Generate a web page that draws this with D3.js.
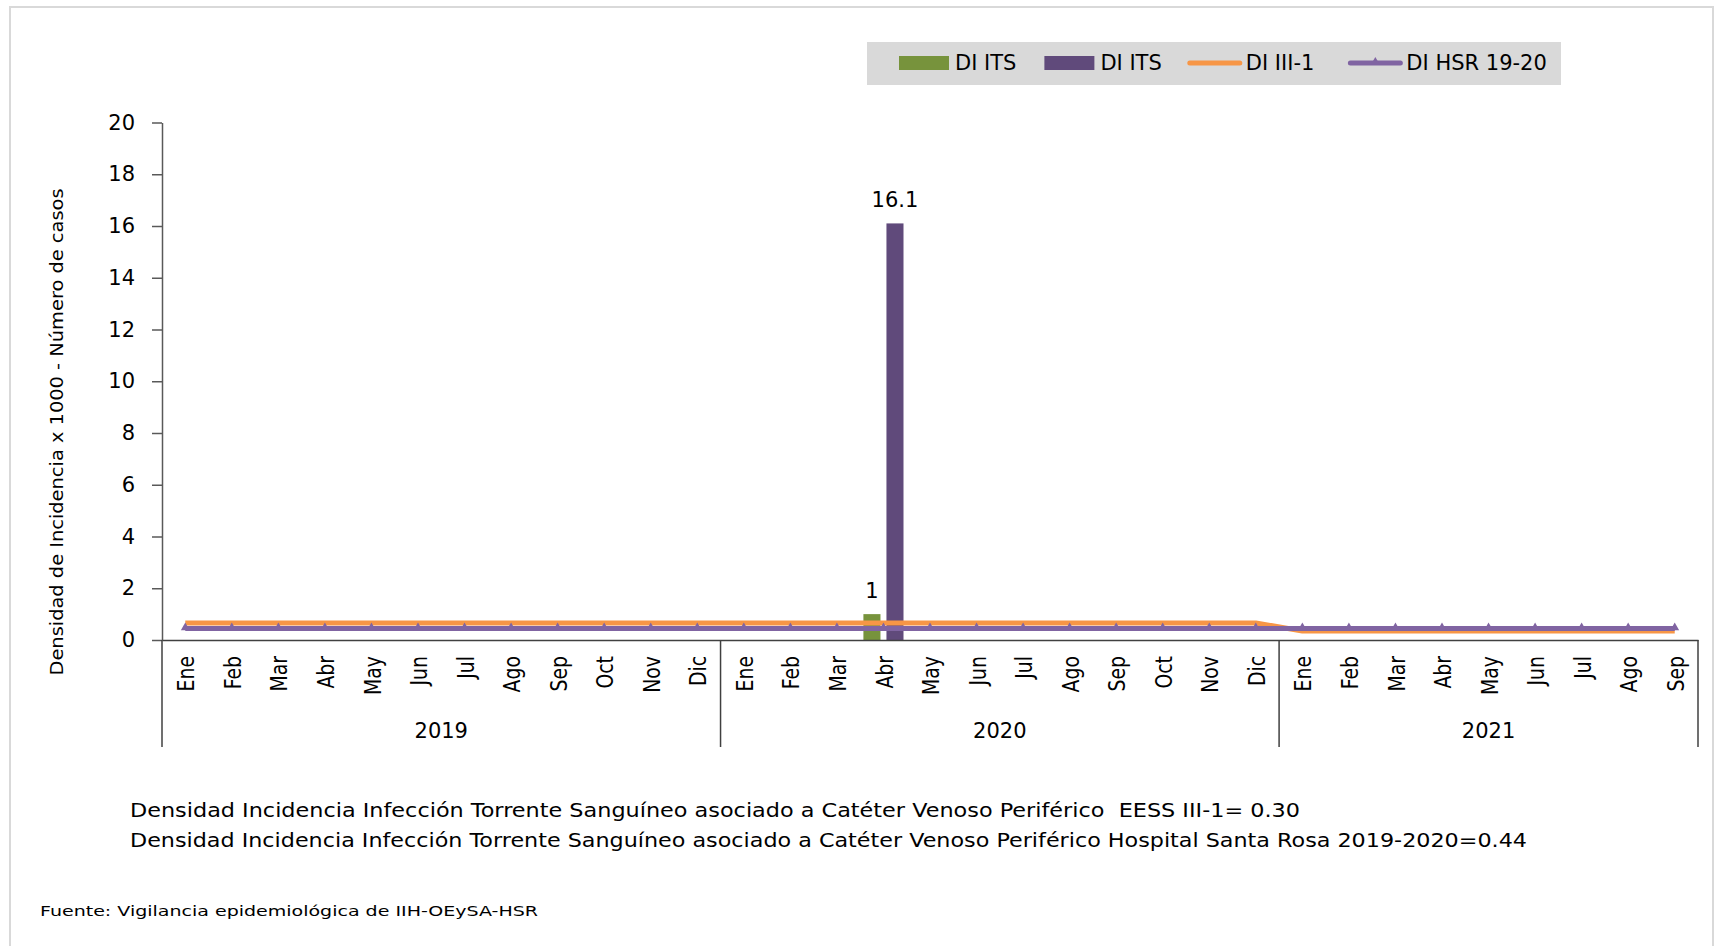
<!DOCTYPE html>
<html>
<head>
<meta charset="utf-8">
<script src="https://cdn.jsdelivr.net/npm/d3@7"></script>
<style>
  body { margin: 0; background: #fff; }
  text { font-family: "DejaVu Sans", sans-serif; fill: #000; }
</style>
</head>
<body>
<div id="mount"></div>
<script>
var months = ['Ene','Feb','Mar','Abr','May','Jun','Jul','Ago','Sep','Oct','Nov','Dic',
              'Ene','Feb','Mar','Abr','May','Jun','Jul','Ago','Sep','Oct','Nov','Dic',
              'Ene','Feb','Mar','Abr','May','Jun','Jul','Ago','Sep'];
var years = ['2019', '2020', '2021'];
var monthsPerYear = [12, 12, 9];

// barras: numero de casos y densidad
var casosITS = [0,0,0,0,0,0,0,0,0,0,0,0, 0,0,0,1,0,0,0,0,0,0,0,0, 0,0,0,0,0,0,0,0,0];
var densidadITS = [0,0,0,0,0,0,0,0,0,0,0,0, 0,0,0,16.1,0,0,0,0,0,0,0,0, 0,0,0,0,0,0,0,0,0];
// lineas de referencia
var diIII1 = [0.66,0.66,0.66,0.66,0.66,0.66,0.66,0.66,0.66,0.66,0.66,0.66,
              0.66,0.66,0.66,0.66,0.66,0.66,0.66,0.66,0.66,0.66,0.66,0.66,
              0.35,0.35,0.35,0.35,0.35,0.35,0.35,0.35,0.35];
var diHSR = [0.44,0.44,0.44,0.44,0.44,0.44,0.44,0.44,0.44,0.44,0.44,0.44,
             0.44,0.44,0.44,0.44,0.44,0.44,0.44,0.44,0.44,0.44,0.44,0.44,
             0.44,0.44,0.44,0.44,0.44,0.44,0.44,0.44,0.44];
var yTicks = [0, 2, 4, 6, 8, 10, 12, 14, 16, 18, 20];

var seriesNames = ['DI ITS', 'DI ITS', 'DI III-1', 'DI HSR 19-20'];
var seriesColors = ['#77933c', '#604a7b', '#f79646', '#8064a2'];
var yTitle = 'Densidad de Incidencia x 1000 - Número de casos';
var notes = [
  'Densidad Incidencia Infección Torrente Sanguíneo asociado a Catéter Venoso Periférico  EESS III-1= 0.30',
  'Densidad Incidencia Infección Torrente Sanguíneo asociado a Catéter Venoso Periférico Hospital Santa Rosa 2019-2020=0.44'
];
var fuente = 'Fuente: Vigilancia epidemiológica de IIH-OEySA-HSR';

var W = 1715, H = 946;
var svg = d3.select('#mount').append('svg')
  .attr('width', W)
  .attr('height', H);

svg.append('rect')
  .attr('x', 10).attr('y', 7)
  .attr('width', 1703).attr('height', 960)
  .attr('fill', '#fff')
  .attr('stroke', '#d9d9d9')
  .attr('stroke-width', 2);

var idx = d3.range(months.length);
var x = d3.scaleBand().domain(idx).range([162, 1698]);
var y = d3.scaleLinear().domain([0, 20]).range([640, 122.5]);
var cx = function (i) { return x(i) + x.bandwidth() / 2; };

// eje y
var yAxis = svg.append('g')
  .attr('transform', 'translate(162,0)')
  .call(d3.axisLeft(y).tickValues(yTicks).tickSize(10).tickSizeOuter(0).tickPadding(17));
yAxis.select('.domain').attr('stroke', '#595959').attr('stroke-width', 1.5);
yAxis.selectAll('.tick line').attr('stroke', '#595959').attr('stroke-width', 1.5);
yAxis.selectAll('.tick text')
  .style('font-size', '21px')
  .style('font-family', '"DejaVu Sans", sans-serif')
  .attr('fill', '#000');

svg.append('text')
  .attr('transform', 'translate(57,432) rotate(-90)')
  .attr('text-anchor', 'middle')
  .attr('dy', '0.35em')
  .attr('textLength', 487)
  .attr('lengthAdjust', 'spacingAndGlyphs')
  .style('font-size', '18px')
  .text(yTitle);

// barras
var x1 = d3.scaleBand().domain([0, 1]).range([0, x.bandwidth()])
  .paddingInner(0.26).paddingOuter(0.14);
var barSeries = [casosITS, densidadITS];

barSeries.forEach(function (vals, s) {
  var g = svg.append('g');
  g.selectAll('rect')
    .data(idx)
    .enter()
    .append('rect')
    .attr('x', function (i) { return x(i) + x1(s); })
    .attr('width', x1.bandwidth())
    .attr('y', function (i) { return y(vals[i]); })
    .attr('height', function (i) { return y(0) - y(vals[i]); })
    .attr('fill', seriesColors[s]);
  g.selectAll('text')
    .data(idx.filter(function (i) { return vals[i] > 0; }))
    .enter()
    .append('text')
    .attr('x', function (i) { return x(i) + x1(s) + x1.bandwidth() / 2; })
    .attr('y', function (i) { return y(vals[i]) - 16; })
    .attr('text-anchor', 'middle')
    .style('font-size', '21px')
    .text(function (i) { return String(vals[i]); });
});

// eje x
var xAxis = svg.append('g')
  .attr('transform', 'translate(0,640)')
  .call(d3.axisBottom(x).tickSize(0).tickSizeOuter(0)
    .tickFormat(function (i) { return months[i]; }));
xAxis.select('.domain').attr('stroke', '#404040').attr('stroke-width', 1.5);
xAxis.selectAll('.tick text')
  .attr('x', 0).attr('y', 0)
  .attr('dy', '0.35em')
  .attr('text-anchor', 'end')
  .attr('transform', 'translate(1,16) rotate(-90) scale(0.82,1)')
  .style('font-size', '23px')
  .style('font-family', '"DejaVu Sans", sans-serif')
  .attr('fill', '#000');

var bounds = [0].concat(Array.from(d3.cumsum(monthsPerYear)));
var bx = function (k) { return x.range()[0] + k * x.step(); };
svg.append('g').selectAll('line')
  .data(bounds)
  .enter()
  .append('line')
  .attr('x1', function (k) { return bx(k); })
  .attr('x2', function (k) { return bx(k); })
  .attr('y1', 640).attr('y2', 747)
  .attr('stroke', '#404040')
  .attr('stroke-width', 1.5);

svg.append('g').selectAll('text')
  .data(years)
  .enter()
  .append('text')
  .attr('x', function (d, j) { return (bx(bounds[j]) + bx(bounds[j + 1])) / 2; })
  .attr('y', 731)
  .attr('dy', '0.35em')
  .attr('text-anchor', 'middle')
  .style('font-size', '21px')
  .text(function (d) { return d; });

// lineas
var line = function (vals) {
  return d3.line().x(cx).y(function (i) { return y(vals[i]); })(idx);
};
svg.append('path')
  .attr('d', line(diIII1))
  .attr('fill', 'none')
  .attr('stroke', seriesColors[2])
  .attr('stroke-width', 5)
  .attr('stroke-linejoin', 'round');
svg.append('path')
  .attr('d', line(diHSR))
  .attr('fill', 'none')
  .attr('stroke', seriesColors[3])
  .attr('stroke-width', 5)
  .attr('stroke-linejoin', 'round');
svg.append('g').selectAll('path')
  .data(idx)
  .enter()
  .append('path')
  .attr('d', d3.symbol(d3.symbolTriangle, 34))
  .attr('transform', function (i) { return 'translate(' + cx(i) + ',' + (y(diHSR[i]) - 1) + ')'; })
  .attr('fill', seriesColors[3]);

// leyenda
var legend = svg.append('g');
legend.append('rect')
  .attr('x', 867).attr('y', 42)
  .attr('width', 694).attr('height', 43)
  .attr('fill', '#d9d9d9');
var lx = 899, ly = 63;
seriesNames.forEach(function (name, s) {
  if (s < 2) {
    legend.append('rect')
      .attr('x', lx).attr('y', ly - 7)
      .attr('width', 50).attr('height', 14)
      .attr('fill', seriesColors[s]);
  } else {
    legend.append('line')
      .attr('x1', lx).attr('x2', lx + 50)
      .attr('y1', ly).attr('y2', ly)
      .attr('stroke', seriesColors[s])
      .attr('stroke-width', 5)
      .attr('stroke-linecap', 'round');
    if (s === 3) {
      legend.append('path')
        .attr('d', d3.symbol(d3.symbolTriangle, 34))
        .attr('transform', 'translate(' + (lx + 25) + ',' + (ly - 1) + ')')
        .attr('fill', seriesColors[s]);
    }
  }
  var t = legend.append('text')
    .attr('x', lx + 56).attr('y', ly)
    .attr('dy', '0.35em')
    .style('font-size', '21px')
    .text(name);
  lx = lx + 56 + t.node().getComputedTextLength() + (s === 2 ? 36 : 28);
});

// notas
svg.append('g').selectAll('text')
  .data(notes)
  .enter()
  .append('text')
  .attr('x', 130)
  .attr('y', function (d, j) { return 817 + j * 30; })
  .attr('textLength', function (d, j) { return j === 0 ? 1170 : 1397; })
  .attr('lengthAdjust', 'spacingAndGlyphs')
  .style('font-size', '19px')
  .style('white-space', 'pre')
  .text(function (d) { return d; });

svg.append('text')
  .attr('x', 40)
  .attr('y', 916)
  .attr('textLength', 498)
  .attr('lengthAdjust', 'spacingAndGlyphs')
  .style('font-size', '14px')
  .text(fuente);
</script>
</body>
</html>
